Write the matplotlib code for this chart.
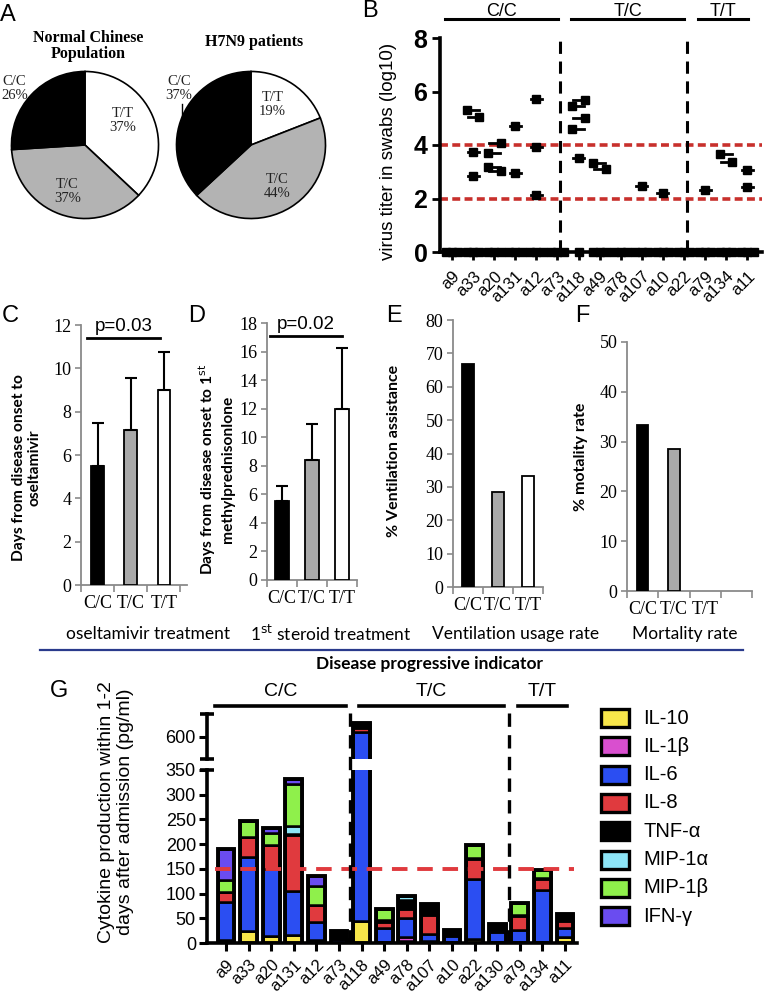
import numpy as np
import matplotlib
matplotlib.use('Agg')
import matplotlib.pyplot as plt
from matplotlib.patches import Rectangle
from matplotlib.lines import Line2D

# ---------------- data ----------------
genotypes = ['C/C', 'T/C', 'T/T']

# A: genotype shares (drawn T/T, T/C, C/C clockwise from the top)
pie_order = ['T/T', 'T/C', 'C/C']
pie_normal = [37, 37, 26]
pie_patients = [19, 44, 37]

# B: virus titer per patient (log10), zeros = undetected swabs
b_patients = ['a9', 'a33', 'a20', 'a131', 'a12', 'a73', 'a118', 'a49',
              'a78', 'a107', 'a10', 'a22', 'a79', 'a134', 'a11']
b_groups = ['C/C'] * 6 + ['T/C'] * 6 + ['T/T'] * 3
b_titers = [
    [0, 0, 0],
    [5.30, 5.03, 3.72, 2.83, 0, 0, 0],
    [3.69, 4.09, 3.17, 3.01, 0, 0, 0],
    [4.71, 2.95, 0, 0, 0],
    [5.71, 3.94, 2.14, 0, 0, 0],
    [0, 0, 0],
    [5.44, 5.69, 4.58, 5.02, 3.53, 0],
    [3.32, 3.10, 0, 0, 0],
    [0, 0, 0],
    [2.48, 0, 0, 0],
    [2.20, 0, 0, 0],
    [0, 0, 0],
    [2.33, 0, 0, 0],
    [3.67, 3.38, 0, 0, 0],
    [3.05, 2.43, 0, 0, 0],
]

# C-F
oselt_mean = [5.5, 7.15, 9.0]
oselt_err = [2.0, 2.4, 1.75]
steroid_mean = [5.5, 8.4, 12.0]
steroid_err = [1.05, 2.5, 4.25]
vent_pct = [66.7, 28.6, 33.3]
mort_pct = [33.3, 28.6, 0.0]

# G: cytokines (pg/ml) per patient
g_patients = ['a9', 'a33', 'a20', 'a131', 'a12', 'a73', 'a118', 'a49', 'a78',
              'a107', 'a10', 'a22', 'a130', 'a79', 'a134', 'a11']
g_groups = ['C/C'] * 6 + ['T/C'] * 7 + ['T/T'] * 3
cytokines = ['IL-10', 'IL-1β', 'IL-6', 'IL-8', 'TNF-α', 'MIP-1α', 'MIP-1β', 'IFN-γ']
il10 = [6, 25, 15, 16, 6, 1, 45, 3, 4, 4, 3, 8, 3, 3, 3, 12]
il1b = [0, 0, 0, 0, 0, 0, 0, 0, 8, 0, 0, 0, 0, 0, 0, 0]
il6 = [77, 148, 135, 90, 37, 8, 565, 28, 38, 15, 12, 122, 20, 24, 104, 18]
il8 = [21, 41, 48, 112, 34, 0, 8, 12, 18, 38, 4, 40, 3, 28, 22, 15]
tnfa = [0, 0, 0, 2, 0, 16, 10, 3, 18, 22, 7, 2, 12, 2, 3, 13]
mip1a = [0, 0, 0, 16, 0, 0, 0, 0, 9, 0, 0, 0, 0, 0, 0, 0]
mip1b = [23, 32, 25, 86, 38, 0, 0, 22, 0, 0, 0, 26, 0, 24, 16, 0]
ifng = [63, 0, 9, 10, 20, 0, 0, 0, 0, 0, 0, 0, 0, 0, 0, 0]
g_values = [il10, il1b, il6, il8, tnfa, mip1a, mip1b, ifng]
cyto_colors = ['#f7e64a', '#d94fcf', '#2b4ef2', '#e03a3e', '#000000',
               '#8de5f7', '#8ff04b', '#6a4cf0']

# ---------------- layout helpers ----------------
W, H = 765, 994
fig = plt.figure(figsize=(W / 100, H / 100), dpi=100)

SERIF = 'Liberation Serif'
SANS = 'Liberation Sans'
CAL = 'Lato'


def box(l, t, r, b):
    return [l / W, 1 - b / H, (r - l) / W, (b - t) / H]


def ftext(x, y, s, **kw):
    fig.text(x / W, 1 - y / H, s, **kw)


for lab, (px, py) in zip('ABCDEFG', [(8, 15), (370, 11), (10, 316), (197, 316),
                                     (394, 316), (582, 316), (59, 691)]):
    ftext(px, py, lab, fontsize=17, family=SANS, ha='center', va='center')

# ---------------- A: pies ----------------
pie_cols = ['white', '#b3b3b3', 'black']
for rect, vals, title in [((10, 70, 160, 220), pie_normal, 'Normal Chinese\nPopulation'),
                          ((175, 70, 327, 220), pie_patients, 'H7N9 patients')]:
    ax = fig.add_axes(box(*rect))
    ax.pie(vals, colors=pie_cols, startangle=90, counterclock=False, radius=1,
           wedgeprops=dict(edgecolor='black', linewidth=1.2))
    ax.set_xlim(-1.02, 1.02)
    ax.set_ylim(-1.02, 1.02)
    ax.set_aspect('auto')
    ax.axis('off')
    cx = (rect[0] + rect[2]) / 2
    ftext(cx + 3, 46 if '\n' in title else 42, title, fontsize=11.5, family=SERIF,
          weight='bold', ha='center', va='center', linespacing=1.0)
    if vals is pie_normal:
        pos = [(0.51, 0.33), (-0.24, -0.63), (-0.96, 0.77)]
    else:
        pos = [(0.29, 0.55), (0.35, -0.56), (-0.97, 0.77)]
        ax.plot([-0.92, -0.92], [0.56, 0.36], color='black', lw=1)
    for name, v, (tx, ty) in zip(pie_order, vals, pos):
        ax.text(tx, ty, f'{name}\n{v}%', fontsize=10.5, family=SERIF, ha='center',
                va='center', color='#222222', linespacing=1.1)

# ---------------- B: virus titer ----------------
axb = fig.add_axes(box(440, 38, 762, 252))


def spread(vals, tol=0.5, half=0.3):
    offs = np.zeros(len(vals))
    i = 0
    while i < len(vals):
        j = i + 1
        while j < len(vals) and abs(vals[j] - vals[j - 1]) < tol:
            j += 1
        if j - i > 1:
            offs[i:j] = np.linspace(-half, half, j - i)
        i = j
    return offs


for i, vals in enumerate(b_titers):
    offs = spread(vals)
    for v, o in zip(vals, offs):
        if v > 0:
            axb.plot([i - 0.26, i + 0.26], [v, v], color='black', lw=2, zorder=3)
    axb.plot(i + offs, vals, 's', color='black', ms=6.2, zorder=4, clip_on=False)

for yv in (2, 4):
    axb.axhline(yv, color='#c8302c', lw=2.6, ls=(0, (2.2, 1.2)), zorder=2)

first = {}
last = {}
for i, g in enumerate(b_groups):
    first.setdefault(g, i)
    last[g] = i
for g in genotypes[:-1]:
    axb.axvline(last[g] + 0.13, color='black', lw=2.2, ls=(0, (4, 2.5)), zorder=2)
for g in genotypes:
    x0, x1 = first[g] - 0.35, last[g] + 0.02
    axb.plot([x0, x1], [8.72, 8.72], color='black', lw=2.2, clip_on=False)
    axb.text((x0 + x1) / 2, 8.98, g, ha='center', va='center', fontsize=13, family=SANS)

axb.set_xlim(-0.57, 14.7)
axb.set_ylim(0, 8)
axb.set_yticks([0, 2, 4, 6, 8])
axb.set_yticklabels(['0', '2', '4', '6', '8'], fontsize=18, weight='bold', family=SANS)
axb.set_xticks(range(len(b_patients)))
axb.set_xticklabels(b_patients, rotation=45, ha='right', rotation_mode='anchor',
                    fontsize=12, family=SANS)
axb.tick_params(width=2, length=6, pad=3)
axb.tick_params(axis='x', pad=6)
for s in ('top', 'right'):
    axb.spines[s].set_visible(False)
for s in ('left', 'bottom'):
    axb.spines[s].set_linewidth(2.6)
axb.set_ylabel('virus titer in swabs (log10)', fontsize=13.5, family=SANS)
axb.yaxis.set_label_coords(-0.135, 0.47)

# ---------------- C-F: Excel style bars ----------------
bar_cols = ['black', '#a9a9a9', 'white']


def excel_panel(rect, vals, ymax, ystep, width, ylabel, lab_xy, nslot=3, xright=None,
                errs=None, lab_size=11.5):
    ax = fig.add_axes(box(*rect))
    x = np.arange(len(vals))
    ax.bar(x, vals, width, color=bar_cols[:len(vals)], edgecolor='black',
           linewidth=[1.3 if v > 0 else 0 for v in vals], zorder=3)
    if errs is not None:
        ax.errorbar(x, vals, yerr=[np.zeros(len(vals)), errs], fmt='none', ecolor='black',
                    elinewidth=1.5, capsize=4.5, capthick=1.5, zorder=4)
    ax.set_xlim(-0.5, xright if xright is not None else nslot - 0.5)
    ax.set_ylim(0, ymax)
    ax.set_yticks(np.arange(0, ymax + 0.1, ystep))
    ax.set_yticklabels([f'{v:g}' for v in np.arange(0, ymax + 0.1, ystep)],
                       fontsize=13, family=SERIF)
    ax.set_xticks(x)
    ax.set_xticklabels(genotypes[:len(vals)], fontsize=13, family=SERIF)
    ax.set_xticks(np.arange(-0.5, nslot, 1.0), minor=True)
    ax.tick_params(axis='x', which='major', length=0, pad=7)
    ax.tick_params(axis='x', which='minor', length=5, color='#8a8a8a', width=1.2)
    ax.tick_params(axis='y', length=4, color='#8a8a8a', width=1.2, pad=3)
    for s in ('top', 'right'):
        ax.spines[s].set_visible(False)
    for s in ('left', 'bottom'):
        ax.spines[s].set_color('#8a8a8a')
        ax.spines[s].set_linewidth(1.3)
    ax.set_ylabel(ylabel, fontsize=lab_size, family=CAL, weight='bold', linespacing=1.2)
    ax.yaxis.set_label_coords(*lab_xy)
    return ax


axc = excel_panel((81, 325, 187, 585), oselt_mean, 12, 2, 0.38,
                  'Days from disease onset to\noseltamivir', (-0.37, 0.45),
                  xright=2.7, errs=oselt_err, lab_size=11.2)
axc.plot([-0.32, 1.87], [11.4, 11.4], color='black', lw=2, clip_on=False)
axc.text(0.78, 11.55, 'p=0.03', fontsize=13.5, family=SANS, ha='center', va='bottom')

axd = excel_panel((267, 323, 357, 580), steroid_mean, 18, 2, 0.48,
                  'Days from disease onset to 1$^{\\mathrm{st}}$\nmethylprednisonlone',
                  (-0.36, 0.43), errs=steroid_err, lab_size=11.2)
axd.plot([-0.4, 2.0], [17.1, 17.1], color='black', lw=2, clip_on=False)
axd.text(0.8, 17.3, 'p=0.02', fontsize=13.5, family=SANS, ha='center', va='bottom')

axe = excel_panel((453, 320, 543, 587), vent_pct, 80, 10, 0.41,
                  '% Ventilation assistance', (-0.58, 0.51))

axf = excel_panel((627, 342, 752, 591), mort_pct, 50, 10, 0.36,
                  '% motality rate', (-0.31, 0.54), nslot=4)

for s, px in [('oseltamivir treatment', 148), ('1$^{\\mathrm{st}}$ steroid treatment', 331),
              ('Ventilation usage rate', 516), ('Mortality rate', 685)]:
    ftext(px, 634, s, fontsize=12.5, family=CAL, ha='center', va='center')
fig.add_artist(Line2D([40 / W, 743 / W], [1 - 650 / H] * 2, color='#2a3a8c', lw=1.6))
ftext(429, 664, 'Disease progressive indicator', fontsize=12.5, family=CAL,
      weight='bold', ha='center', va='center')

# ---------------- G: cytokines ----------------
axg = fig.add_axes(box(207, 770, 577, 943))
axt = fig.add_axes(box(207, 714, 577, 759))
xg = np.arange(len(g_patients))
for ax in (axg, axt):
    base = np.zeros(len(xg))
    for vals, col in zip(g_values, cyto_colors):
        v = np.array(vals, dtype=float)
        ax.bar(xg, v, 0.74, bottom=base, color=col, edgecolor='black', linewidth=1.8,
               zorder=3)
        base += v
    ax.bar(xg, base, 0.74, fill=False, edgecolor='black', linewidth=2.8, zorder=4)
    ax.set_xlim(-0.84, 15.53)

axg.set_ylim(0, 350)
axg.set_yticks(range(0, 351, 50))
axg.set_yticklabels([str(v) for v in range(0, 351, 50)], fontsize=13, family=SANS)
axg.set_xticks(xg)
axg.set_xticklabels(g_patients, rotation=45, ha='right', rotation_mode='anchor',
                    fontsize=12, family=SANS)
axg.tick_params(width=2.2, length=6, pad=2)
axg.tick_params(axis='x', pad=4)
for s in ('top', 'right'):
    axg.spines[s].set_visible(False)
for s in ('left', 'bottom'):
    axg.spines[s].set_linewidth(2.6)
axg.plot([0], [350], marker='_', ms=10, mew=2.6, color='black', clip_on=False,
         transform=axg.get_yaxis_transform())
axg.plot([-0.5, 15.4], [150, 150], color='#e03a3e', lw=2.8, ls=(0, (4, 2.5)), zorder=5)

axt.set_ylim(555, 645)
axt.set_yticks([600])
axt.set_yticklabels(['600'], fontsize=13, family=SANS)
axt.set_xticks([])
axt.tick_params(width=2.2, length=6, pad=2)
axt.patch.set_visible(False)
for s in ('top', 'right', 'bottom'):
    axt.spines[s].set_visible(False)
axt.spines['left'].set_linewidth(2.6)
axt.plot([0, 0], [555, 645], marker='_', ms=10, mew=2.6, color='black', lw=0,
         clip_on=False, transform=axt.get_yaxis_transform())

gfirst, glast = {}, {}
for i, g in enumerate(g_groups):
    gfirst.setdefault(g, i)
    glast[g] = i
trans = axg.get_xaxis_transform()
for g in genotypes[:-1]:
    xs = glast[g] + 0.5
    axg.plot([xs, xs], [0, 1.376], transform=trans, color='black', lw=2.4,
             ls=(0, (4, 2.5)), clip_on=False, zorder=6)
for g in genotypes:
    x0, x1 = gfirst[g] - 0.5, glast[g] + 0.3
    if g == genotypes[-1]:
        x1 = glast[g] + 0.1
    if g != genotypes[0]:
        x0 = gfirst[g] - 0.1
    axg.plot([x0, x1], [1.37, 1.37], transform=trans, color='black', lw=2.6,
             clip_on=False)
    axg.text((x0 + x1) / 2, 1.405, g, transform=trans, ha='center', va='bottom',
             fontsize=14, family=SANS)

ftext(116, 812, 'Cytokine production within 1-2\ndays after admission (pg/ml)',
      fontsize=14, family=SANS, rotation=90, ha='center', va='center', linespacing=1.2)

# legend
axl = fig.add_axes(box(595, 700, 765, 935))
axl.set_xlim(0, 170)
axl.set_ylim(235, 0)
axl.axis('off')
for k, (name, col) in enumerate(zip(cytokines, cyto_colors)):
    yc = 18 + 28.3 * k
    axl.add_patch(Rectangle((6, yc - 9), 28, 18, facecolor=col, edgecolor='black',
                            linewidth=2.4))
    axl.text(48, yc, name, fontsize=14.5, family=SANS, va='center', ha='left')

fig.savefig('out.png', dpi=100)
